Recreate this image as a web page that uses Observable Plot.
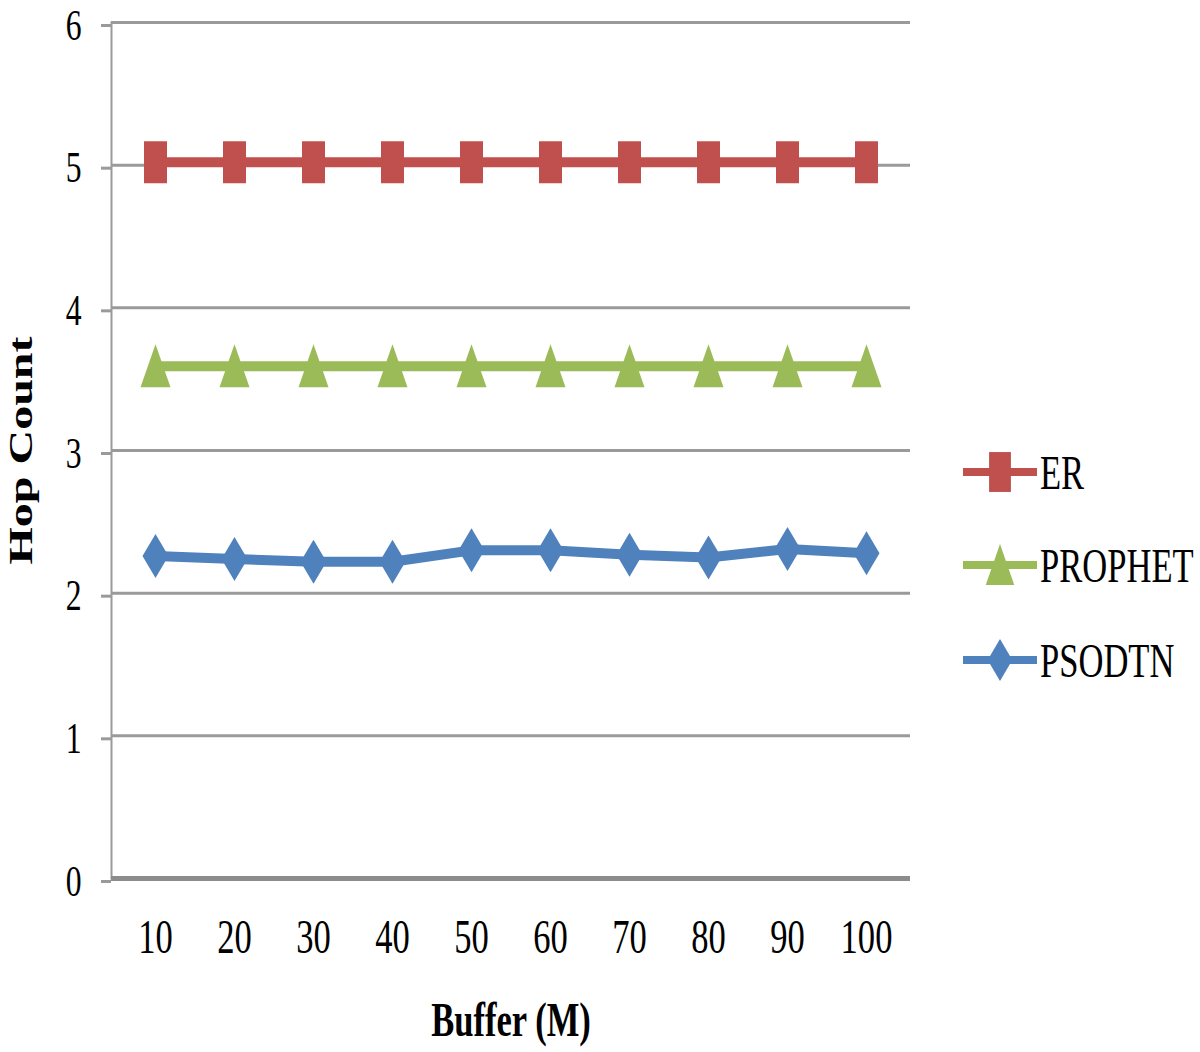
<!DOCTYPE html>
<html><head><meta charset="utf-8">
<script src="https://cdn.jsdelivr.net/npm/d3@7"></script>
<script src="https://cdn.jsdelivr.net/npm/@observablehq/plot@0.6"></script>
<style>
body{margin:0;background:#fff}
#wrap{position:relative;width:1200px;height:1052px;overflow:hidden}
#legend{position:absolute;left:0;top:0;pointer-events:none}
</style>
</head><body><div id="wrap"></div>
<script>
const buffers = ["10","20","30","40","50","60","70","80","90","100"];
const seriesNames = ["ER","PROPHET","PSODTN"];
const erValues = [5.02,5.02,5.02,5.02,5.02,5.02,5.02,5.02,5.02,5.02];
const prophetValues = [3.59,3.59,3.59,3.59,3.59,3.59,3.59,3.59,3.59,3.59];
const psodtnValues = [2.26,2.24,2.22,2.22,2.30,2.30,2.27,2.25,2.31,2.28];
const yTicks = [0,1,2,3,4,5,6];
const seriesColors = ["#C0504D","#9BBB59","#4F81BD"];
const xTitle = "Buffer (M)";
const yTitle = "Hop Count";

const valuesBySeries = [erValues, prophetValues, psodtnValues];
const rows = [];
seriesNames.forEach((s, si) => buffers.forEach((b, i) => rows.push({series: s, buffer: b, value: valuesBySeries[si][i]})));

// custom marker shapes
const rectSym = {draw(c){c.moveTo(-11.5,-21);c.lineTo(11.5,-21);c.lineTo(11.5,21);c.lineTo(-11.5,21);c.closePath();}};
const triSym = {draw(c){c.moveTo(0,-22);c.lineTo(15,21);c.lineTo(-15,21);c.closePath();}};
const diaSym = {draw(c){c.moveTo(0,-22);c.lineTo(13,0);c.lineTo(0,22);c.lineTo(-13,0);c.closePath();}};
const syms = [rectSym, triSym, diaSym];

const grid = "#9a9a9a";
const plot = Plot.plot({
  width: 1200, height: 1052,
  marginLeft: 111, marginRight: 290, marginTop: 22, marginBottom: 174,
  style: {fontFamily: "'Liberation Serif', 'Times New Roman', serif", fontSize: "48px", color: "#000", background: "#fff"},
  x: {type: "point", domain: buffers, padding: 0.5, label: null},
  y: {domain: [0, 6], label: null},
  color: {domain: seriesNames, range: seriesColors},
  marks: [
    Plot.gridY(yTicks, {stroke: grid, strokeOpacity: 1, strokeWidth: 3}),
    Plot.axisY(yTicks, {tickSize: 10, tickPadding: 20, tickFormat: "d", fontSize: 44, dy: 3, stroke: grid, strokeWidth: 3, fill: "#000", label: null}),
    Plot.axisX({tickSize: 0, tickPadding: 40, fill: "#000", label: null}),
    Plot.frame({anchor: "left", stroke: grid, strokeWidth: 2}),
    Plot.ruleY([0], {stroke: "#8c8c8c", strokeWidth: 5}),
    Plot.line(rows, {x: "buffer", y: "value", z: "series", stroke: "series", strokeWidth: 10}),
    ...seriesNames.map((s, si) => Plot.dot(rows.filter(d => d.series === s), {x: "buffer", y: "value", fill: "series", symbol: syms[si], r: 10})),
    Plot.text([xTitle], {text: d => d, frameAnchor: "bottom", lineAnchor: "middle", textAnchor: "middle", dy: 142, fontWeight: "bold", fill: "#000"}),
    Plot.text([yTitle], {text: d => d, frameAnchor: "left", lineAnchor: "middle", textAnchor: "middle", dx: -91, rotate: -90, fontWeight: "bold", fill: "#000"})
  ]
});

// condense text horizontally like the reference
plot.querySelectorAll("text").forEach(t => {
  const tr = t.getAttribute("transform") || "";
  t.setAttribute("transform", tr + (tr.includes("rotate") ? " scale(1,0.72)" : " scale(0.72,1)"));
});
document.getElementById("wrap").appendChild(plot);

// legend
const legendY = [472, 565, 660];
const lg = d3.select("#wrap").append("svg").attr("id", "legend").attr("width", 1200).attr("height", 1052);
seriesNames.forEach((s, i) => {
  const g = lg.append("g").attr("transform", `translate(0,${legendY[i]})`);
  g.append("line").attr("x1", 963).attr("x2", 1037).attr("y1", 0).attr("y2", 0)
    .attr("stroke", seriesColors[i]).attr("stroke-width", 8);
  g.append("path").attr("d", d3.symbol(syms[i])()).attr("transform", "translate(1000,0) scale(0.95)")
    .attr("fill", seriesColors[i]);
  g.append("text").attr("transform", "translate(1040,0) scale(0.72,1)").attr("dy", "0.35em")
    .attr("font-family", "'Liberation Serif', 'Times New Roman', serif").attr("font-size", 48)
    .attr("fill", "#000").text(s);
});
</script>
</body></html>
